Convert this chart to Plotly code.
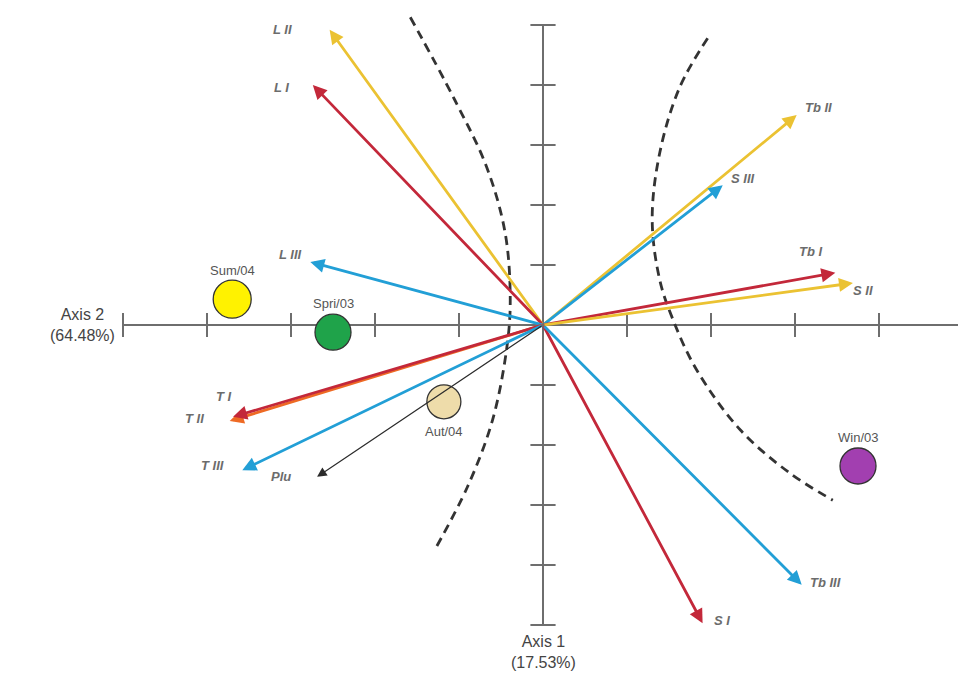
import plotly.graph_objects as go

# ---------------- data (axis units: 1 = one tick) ----------------
var_names = ["L II", "L I", "L III", "Tb II", "S III", "Tb I", "S II",
             "T II", "T I", "T III", "Plu", "S I", "Tb III"]
var_x = [-2.54, -2.74, -2.77, 3.02, 2.14, 3.48, 3.69,
         -3.73, -3.69, -3.58, -2.69, 1.90, 3.08]
var_y = [4.92, 4.00, 1.05, 3.50, 2.33, 0.87, 0.70,
         -1.60, -1.53, -2.42, -2.53, -4.97, -4.33]

site_names = ["Sum/04", "Spri/03", "Aut/04", "Win/03"]
site_x = [-3.70, -2.50, -1.18, 3.75]
site_y = [0.43, -0.12, -1.28, -2.35]

x_ticks = [-5, -4, -3, -2, -1, 1, 2, 3, 4]
y_ticks = [-5, -4, -3, -2, -1, 1, 2, 3, 4, 5]

left_curve_x = [-1.58, -1.05, -0.67, -0.45, -0.39, -0.43, -0.60, -0.90, -1.29]
left_curve_y = [5.13, 3.75, 2.63, 1.53, 0.42, -0.37, -1.58, -2.70, -3.75]
right_curve_x = [1.96, 1.63, 1.39, 1.30, 1.39, 1.55, 1.83, 2.35, 2.94, 3.45]
right_curve_y = [4.78, 3.97, 2.87, 1.75, 0.75, 0.08, -0.75, -1.75, -2.47, -2.92]

axis_x_title = "Axis 1<br>(17.53%)"
axis_y_title = "Axis 2<br>(64.48%)"

# ---------------- styles ----------------
RED, YEL, BLU, ORA, BLK = "#c3283a", "#ebc232", "#229fd6", "#ee6a24", "#2b2b2b"
var_colors = [YEL, RED, BLU, YEL, BLU, RED, YEL, ORA, RED, BLU, BLK, RED, BLU]
var_widths = [2.8, 2.8, 2.8, 2.8, 2.8, 2.8, 2.8, 2.8, 2.8, 2.8, 1.2, 2.8, 2.8]
# label placement: (xanchor, xshift, yshift)
var_label = [("right", -36, 0), ("right", -22, -2), ("right", -6, 8),
             ("left", 6, 8), ("left", 6, 7), ("center", -25, 21),
             ("left", -2, -7), ("right", -24, 3), ("center", -9, 20),
             ("right", -16, 5), ("right", -24, 0), ("left", 9, 3),
             ("left", 6, 2)]
site_colors = ["#fff200", "#1fa34a", "#eedcaa", "#a23fb0"]
site_sizes = [38, 36, 34, 36]
site_label_shift = [29, 29, -30, 29]

X0, X1 = -543 / 84, (958 - 543) / 84
Y0, Y1 = (325 - 687) / 60, 325 / 60
AXIS_C = "#6e6e6e"

fig = go.Figure()

# axes lines
fig.add_trace(go.Scatter(x=[x_ticks[0], X1], y=[0, 0], mode="lines",
                         line=dict(color=AXIS_C, width=2), hoverinfo="skip"))
fig.add_trace(go.Scatter(x=[0, 0], y=[y_ticks[-1], y_ticks[0]], mode="lines",
                         line=dict(color=AXIS_C, width=2), hoverinfo="skip"))
tx, ty = [], []
for t in x_ticks:
    tx += [t, t, None]
    ty += [0.2, -0.2, None]
for t in y_ticks:
    tx += [-0.15, 0.15, None]
    ty += [t, t, None]
fig.add_trace(go.Scatter(x=tx, y=ty, mode="lines",
                         line=dict(color=AXIS_C, width=2), hoverinfo="skip"))

# dashed curves
for cx, cy in [(left_curve_x, left_curve_y), (right_curve_x, right_curve_y)]:
    fig.add_trace(go.Scatter(x=cx, y=cy, mode="lines",
                             line=dict(color="#333333", width=2.8, dash="9px,6px", shape="spline",
                                       smoothing=1.0),
                             hoverinfo="skip"))

# sites
fig.add_trace(go.Scatter(x=site_x, y=site_y, mode="markers",
                         marker=dict(size=site_sizes, color=site_colors, opacity=1,
                                     line=dict(color="#333333", width=1.3)),
                         opacity=1, hoverinfo="skip"))

# vector arrows
for name, vx, vy, c, w in zip(var_names, var_x, var_y, var_colors, var_widths):
    fig.add_annotation(x=vx, y=vy, ax=0, ay=0, xref="x", yref="y",
                       axref="x", ayref="y", text="", showarrow=True,
                       arrowhead=2, arrowsize=1.0 if w > 2 else 1.6,
                       arrowwidth=w, arrowcolor=c)

# vector labels
for name, vx, vy, (xa, xs, ys) in zip(var_names, var_x, var_y, var_label):
    fig.add_annotation(x=vx, y=vy, xref="x", yref="y", text="<b><i>%s</i></b>" % name,
                       showarrow=False, xanchor=xa, yanchor="middle",
                       xshift=xs, yshift=ys,
                       font=dict(family="Liberation Sans", size=13, color="#6c6c6c"))

# site labels
for name, sx, sy, ys in zip(site_names, site_x, site_y, site_label_shift):
    fig.add_annotation(x=sx, y=sy, xref="x", yref="y", text=name,
                       showarrow=False, xanchor="center", yanchor="middle", yshift=ys,
                       font=dict(family="Liberation Sans", size=13, color="#555555"))

# axis titles
fig.add_annotation(x=0, y=y_ticks[0], xref="x", yref="y", text=axis_x_title,
                   showarrow=False, xanchor="center", yanchor="top", yshift=-6,
                   font=dict(family="Liberation Sans", size=16, color="#444444"))
fig.add_annotation(x=x_ticks[0], y=0, xref="x", yref="y", text=axis_y_title,
                   showarrow=False, xanchor="right", yanchor="middle", xshift=-6,
                   font=dict(family="Liberation Sans", size=16, color="#444444"))

fig.update_layout(
    width=958, height=687, margin=dict(l=0, r=0, t=0, b=0),
    paper_bgcolor="white", plot_bgcolor="white", showlegend=False,
    xaxis=dict(range=[X0, X1], visible=False, fixedrange=True),
    yaxis=dict(range=[Y0, Y1], visible=False, fixedrange=True),
)

fig.write_html("out.html", config={"displayModeBar": False},
               post_script="document.body.style.margin='0';document.body.style.overflow='hidden';")
